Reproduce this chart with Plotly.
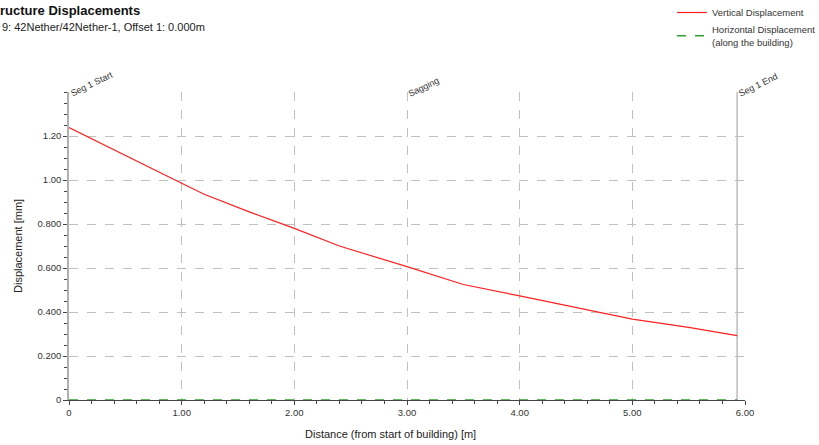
import plotly.graph_objects as go

# Data
distance = [0.0, 0.5, 1.0, 1.2, 1.6, 2.0, 2.4, 3.0, 3.5, 4.0, 4.5, 5.0, 5.5, 5.93]
vertical = [1.238, 1.11, 0.985, 0.935, 0.855, 0.78, 0.70, 0.606, 0.525, 0.473, 0.42, 0.368, 0.33, 0.293]
horizontal = [0.0] * len(distance)

x_ticks = [0, 1, 2, 3, 4, 5, 6]
x_tick_labels = ["0", "1.00", "2.00", "3.00", "4.00", "5.00", "6.00"]
y_ticks = [0, 0.2, 0.4, 0.6, 0.8, 1.0, 1.2]
y_tick_labels = ["0", "0.200", "0.400", "0.600", "0.800", "1.00", "1.20"]

markers = [(0.0, "Seg 1 Start"), (3.0, "Sagging"), (5.93, "Seg 1 End")]

FONT = "Liberation Sans, Arial, sans-serif"
W, H = 819, 445
L, R, T, B = 69, 74, 92, 45
pw, ph = W - L - R, H - T - B

def px_x(p):
    return (p - L) / pw

def px_y(p):
    return (H - B - p) / ph

fig = go.Figure()

fig.add_trace(go.Scatter(
    x=distance, y=vertical, mode="lines", name="Vertical Displacement",
    line=dict(color="#ff2020", width=1.2),
))
fig.add_trace(go.Scatter(
    x=distance, y=horizontal, mode="lines",
    name="Horizontal Displacement<br>(along the building)",
    line=dict(color="#2ca02c", width=1.5, dash="dash"),
))

# Segment end line
fig.add_shape(type="line", x0=markers[-1][0], x1=markers[-1][0], y0=0, y1=1.4,
              xref="x", yref="y", line=dict(color="#aaaaaa", width=1.2), layer="below")

for xv, txt in markers:
    fig.add_annotation(x=xv, y=1.4, xref="x", yref="y", text=txt, showarrow=False,
                       textangle=-26, xanchor="left", yanchor="bottom",
                       font=dict(family=FONT, size=9, color="#333"), xshift=-3, yshift=-9)

# Titles
fig.add_annotation(x=px_x(-15), y=px_y(1), xref="paper", yref="paper",
                   text="<b>Structure Displacements</b>", showarrow=False,
                   xanchor="left", yanchor="top",
                   font=dict(family=FONT, size=13, color="#111"))
fig.add_annotation(x=px_x(0), y=px_y(19), xref="paper", yref="paper",
                   text="9: 42Nether/42Nether-1, Offset 1: 0.000m", showarrow=False,
                   xanchor="left", yanchor="top",
                   font=dict(family=FONT, size=11, color="#222"))
fig.add_annotation(x=px_x(390), y=px_y(434), xref="paper", yref="paper",
                   text="Distance (from start of building) [m]", showarrow=False,
                   xanchor="center", yanchor="middle",
                   font=dict(family=FONT, size=11, color="#222"))
fig.add_annotation(x=px_x(18), y=px_y(246), xref="paper", yref="paper",
                   text="Displacement [mm]", showarrow=False, textangle=-90,
                   xanchor="center", yanchor="middle",
                   font=dict(family=FONT, size=11, color="#222"))

fig.update_xaxes(
    range=[0, 6], tickvals=x_ticks, ticktext=x_tick_labels,
    showgrid=True, gridcolor="#c0c0c0", griddash="dash", gridwidth=1,
    zeroline=False, showline=True, linecolor="#444", linewidth=1,
    ticks="outside", ticklen=4, tickcolor="#444",
    minor=dict(dtick=0.2, ticks="outside", ticklen=3, tickcolor="#444", showgrid=False),
    tickfont=dict(family=FONT, size=9.5, color="#333"),
)
fig.update_yaxes(
    range=[0, 1.4], tickvals=y_ticks, ticktext=y_tick_labels,
    showgrid=True, gridcolor="#c0c0c0", griddash="dash", gridwidth=1,
    zeroline=False, showline=True, linecolor="#b0b0b0", linewidth=1.5,
    ticks="outside", ticklen=4, tickcolor="#444",
    minor=dict(dtick=0.05, ticks="outside", ticklen=3, tickcolor="#444", showgrid=False),
    tickfont=dict(family=FONT, size=9.5, color="#333"),
)

fig.update_layout(
    width=W, height=H,
    margin=dict(l=L, r=R, t=T, b=B, autoexpand=False),
    plot_bgcolor="white", paper_bgcolor="white",
    showlegend=True,
    legend=dict(x=px_x(672), y=px_y(-2), xanchor="left", yanchor="top",
                font=dict(family=FONT, size=9.5, color="#333"),
                bgcolor="rgba(0,0,0,0)", itemwidth=30, tracegroupgap=2),
)

fig.write_html("out.html", config={"displayModeBar": False},
               post_script="document.body.style.margin='0';document.body.style.padding='0';")
